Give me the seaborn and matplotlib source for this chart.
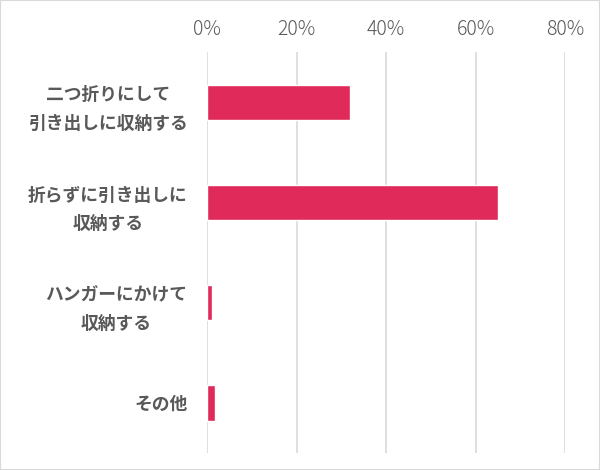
import matplotlib
matplotlib.use('Agg')
import matplotlib.pyplot as plt
import matplotlib.ticker as mtick
import pandas as pd
import seaborn as sns

# values (share of answers)
categories = ['二つ折りにして\n引き出しに収納する', '折らずに引き出しに\n収納する',
              'ハンガーにかけて\n収納する', 'その他']
shares = [0.32, 0.65, 0.011, 0.018]
x_ticks = [0, 0.2, 0.4, 0.6, 0.8]

sns.set_theme(style='white')
plt.rcParams['font.family'] = ['Noto Sans CJK JP', 'DejaVu Sans']

df = pd.DataFrame({'cat': categories, 'share': shares})

fig = plt.figure(figsize=(6, 4.7), dpi=100)
ax = fig.add_axes([0.345, 0.036, 0.597, 0.853])

sns.barplot(data=df, x='share', y='cat', orient='h', color='#E02A5A',
            saturation=1, width=0.35, ax=ax)

ax.set_xlim(0, 0.8)
ax.set_xticks(x_ticks)
ax.xaxis.set_major_formatter(mtick.PercentFormatter(1.0, decimals=0))
ax.xaxis.tick_top()
ax.grid(axis='x', color='#d9d9d9', linewidth=1.2)
ax.set_axisbelow(True)
for s in ax.spines.values():
    s.set_visible(False)
ax.set_xlabel('')
ax.set_ylabel('')
ax.tick_params(axis='x', length=0, pad=9, labelsize=14, labelcolor='#595959')
for lab in ax.get_xticklabels():
    lab.set_fontweight('light')
ax.tick_params(axis='y', length=0, pad=14)
for lab in ax.get_yticklabels():
    lab.set_fontsize(12.8)
    lab.set_color('#595959')
    lab.set_fontweight('bold')
    lab.set_multialignment('center')
    lab.set_linespacing(1.75)

# thin frame around the whole picture
fig.patches.append(plt.Rectangle((0, 0), 1, 1, transform=fig.transFigure,
                                 fill=False, edgecolor='#d9d9d9', linewidth=1.5))

fig.savefig('out.png', dpi=100)
